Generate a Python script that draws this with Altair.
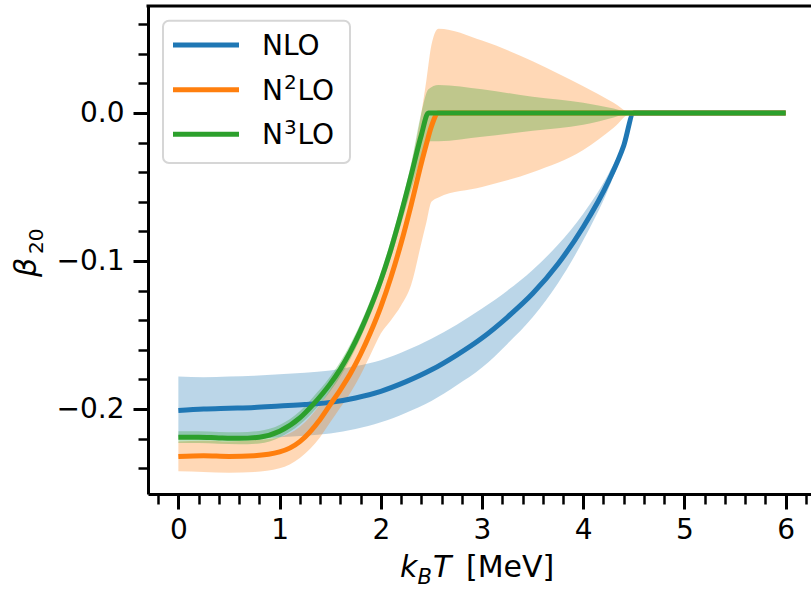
import altair as alt
import pandas as pd

# ---- series values: beta_20 versus k_B T (MeV), central curve with lower/upper band ----
series_names = ["NLO", "N²LO", "N³LO"]
series_colors = ["#1f77b4", "#ff7f0e", "#2ca02c"]
# legend labels drawn as (base, superscript, tail) so the order digit sits raised
legend_parts = [("NLO", "", ""), ("N", "2", "LO"), ("N", "3", "LO")]

nlo_x = [0.0, 0.25, 0.5, 0.75, 1.0, 1.25, 1.5, 1.75, 2.0, 2.25, 2.5, 2.75, 3.0,
         3.25, 3.5, 3.75, 4.0, 4.25, 4.4, 4.5, 5.0, 5.5, 6.0]
nlo_mid = [-0.201, -0.200, -0.1995, -0.199, -0.198, -0.197, -0.1955, -0.1925, -0.188,
           -0.1815, -0.1735, -0.1635, -0.152, -0.138, -0.122, -0.102, -0.077, -0.046,
           -0.022, 0.0, 0.0, 0.0, 0.0]
nlo_hi = [-0.178, -0.1785, -0.178, -0.1775, -0.1765, -0.1755, -0.174, -0.171, -0.167,
          -0.1605, -0.1525, -0.143, -0.132, -0.120, -0.106, -0.089, -0.068, -0.041,
          -0.020, 0.0, 0.0, 0.0, 0.0]
nlo_lo = [-0.219, -0.2205, -0.2205, -0.220, -0.219, -0.218, -0.2165, -0.2135, -0.209,
          -0.2025, -0.1945, -0.184, -0.172, -0.156, -0.138, -0.115, -0.086, -0.051,
          -0.024, 0.0, 0.0, 0.0, 0.0]

n2lo_x = [0.0, 0.25, 0.5, 0.75, 1.0, 1.2, 1.4, 1.5, 1.6, 1.7, 1.8, 1.9, 2.0, 2.1,
          2.2, 2.3, 2.4, 2.45, 2.5, 2.57, 3.0, 3.5, 4.0, 4.3, 4.48, 5.0, 5.5, 6.0]
n2lo_mid = [-0.232, -0.2315, -0.232, -0.2315, -0.229, -0.222, -0.207, -0.197, -0.187,
            -0.176, -0.163, -0.148, -0.131, -0.111, -0.088, -0.062, -0.034, -0.021,
            -0.009, 0.0, 0.0, 0.0, 0.0, 0.0, 0.0, 0.0, 0.0, 0.0]
n2lo_hi = [-0.222, -0.2215, -0.222, -0.221, -0.219, -0.212, -0.197, -0.187, -0.176,
           -0.164, -0.150, -0.134, -0.116, -0.095, -0.068, -0.036, 0.000, 0.022,
           0.046, 0.057, 0.049, 0.035, 0.018, 0.007, 0.0, 0.0, 0.0, 0.0]
n2lo_lo = [-0.242, -0.2425, -0.243, -0.2425, -0.240, -0.233, -0.219, -0.209, -0.199,
           -0.189, -0.177, -0.163, -0.149, -0.140, -0.130, -0.116, -0.088, -0.074,
           -0.060, -0.057, -0.050, -0.040, -0.025, -0.010, 0.0, 0.0, 0.0, 0.0]

n3lo_x = [0.0, 0.2, 0.4, 0.6, 0.8, 1.0, 1.2, 1.33, 1.5, 1.6, 1.7, 1.8, 1.9, 2.0,
          2.1, 2.2, 2.3, 2.4, 2.47, 2.57, 3.0, 3.5, 4.0, 4.3, 4.48, 5.0, 5.5, 6.0]
n3lo_mid = [-0.219, -0.219, -0.2195, -0.2198, -0.219, -0.215, -0.206, -0.197, -0.183,
            -0.173, -0.161, -0.147, -0.131, -0.113, -0.092, -0.068, -0.042, -0.015,
            0.0, 0.0, 0.0, 0.0, 0.0, 0.0, 0.0, 0.0, 0.0, 0.0]
n3lo_hi = [-0.215, -0.215, -0.2155, -0.2157, -0.2148, -0.2108, -0.2015, -0.192, -0.178,
           -0.168, -0.156, -0.142, -0.126, -0.108, -0.086, -0.062, -0.034, 0.000,
           0.016, 0.019, 0.016, 0.011, 0.007, 0.003, 0.0, 0.0, 0.0, 0.0]
n3lo_lo = [-0.223, -0.223, -0.2235, -0.2238, -0.2232, -0.2192, -0.2105, -0.202, -0.188,
           -0.178, -0.166, -0.152, -0.136, -0.118, -0.098, -0.075, -0.052, -0.030,
           -0.019, -0.019, -0.016, -0.012, -0.008, -0.003, 0.0, 0.0, 0.0, 0.0]

# axis ticks
x_major = [0, 1, 2, 3, 4, 5, 6]
x_minor = [round(-0.2 + 0.2 * i, 1) for i in range(33) if (i - 1) % 5 != 0]
y_major = [-0.2, -0.1, 0.0]
y_minor = [round(-0.24 + 0.02 * i, 2) for i in range(16) if i % 5 != 2]

X_DOMAIN = [-0.3, 6.25]
Y_DOMAIN = [-0.2574, 0.0723]
W, H = 663, 488
FONT = "DejaVu Sans"

frames = []
for name, xs, mid, lo, hi in [
    (series_names[0], nlo_x, nlo_mid, nlo_lo, nlo_hi),
    (series_names[1], n2lo_x, n2lo_mid, n2lo_lo, n2lo_hi),
    (series_names[2], n3lo_x, n3lo_mid, n3lo_lo, n3lo_hi),
]:
    frames.append(pd.DataFrame({"series": name, "T": xs, "beta": mid, "lo": lo, "hi": hi}))
df = pd.concat(frames, ignore_index=True)
df["order"] = df["series"].map({n: i for i, n in enumerate(series_names)})

color = alt.Color("series:N", scale=alt.Scale(domain=series_names, range=series_colors),
                  legend=None)
xscale = alt.Scale(domain=X_DOMAIN, nice=False, zero=False)
yscale = alt.Scale(domain=Y_DOMAIN, nice=False, zero=False)

axis_common = dict(domainColor="black", domainWidth=3, tickColor="black",
                   labelColor="black", labelFont=FONT, labelFontSize=28, grid=False)

x_major_axis = alt.Axis(orient="bottom", values=x_major, format="d", tickSize=15,
                        tickWidth=3, labelPadding=7, **axis_common)
x_minor_axis = alt.Axis(orient="bottom", values=x_minor, labels=False, domain=False,
                        tickSize=10, tickWidth=2.5, tickColor="black", grid=False)
y_major_axis = alt.Axis(orient="left", values=y_major, format=".1f", tickSize=15,
                        tickWidth=3, labelPadding=9, **axis_common)
y_minor_axis = alt.Axis(orient="left", values=y_minor, labels=False, domain=False,
                        tickSize=10, tickWidth=2.5, tickColor="black", grid=False)

bands = alt.Chart(df).mark_area(opacity=0.3, interpolate="monotone").encode(
    x=alt.X("T:Q", scale=xscale, axis=x_major_axis, title=None),
    y=alt.Y("lo:Q", scale=yscale, axis=y_major_axis, title=None),
    y2="hi:Q",
    color=color,
    order="order:Q",
)

lines = alt.Chart(df).mark_line(strokeWidth=5, interpolate="monotone",
                                strokeCap="butt", strokeJoin="round").encode(
    x=alt.X("T:Q", scale=xscale, axis=x_minor_axis, title=None),
    y=alt.Y("beta:Q", scale=yscale, axis=y_minor_axis, title=None),
    color=color,
    order="order:Q",
)

one = pd.DataFrame({"k": [0]})


def label(txt, x, y, size, italic=False, angle=0):
    props = dict(text=txt, font=FONT, fontSize=size, align="left",
                 baseline="alphabetic", color="black")
    if italic:
        props["fontStyle"] = "italic"
    if angle:
        props["angle"] = angle
    return alt.Chart(one).mark_text(**props).encode(x=alt.value(x), y=alt.value(y))


# top spine
top_spine = alt.Chart(one).mark_rule(color="black", strokeWidth=3).encode(
    x=alt.value(-1.5), x2=alt.value(W), y=alt.value(0))

# legend box and entries
legend_box = alt.Chart(one).mark_rect(
    fill="white", fillOpacity=0.8, stroke="#d6d6d6", strokeWidth=2, cornerRadius=6
).encode(x=alt.value(15), x2=alt.value(202), y=alt.value(14.7), y2=alt.value(157))

legend_layers = [legend_box]
for i, ((base, sup, tail), col) in enumerate(zip(legend_parts, series_colors)):
    ly = 39 + 44.65 * i
    legend_layers.append(
        alt.Chart(one).mark_rule(color=col, strokeWidth=5).encode(
            x=alt.value(25), x2=alt.value(91), y=alt.value(ly)))
    legend_layers.append(label(base, 114, ly + 10, 28))
    if sup:
        legend_layers.append(label(sup, 136, ly - 0.5, 20))
        legend_layers.append(label(tail, 149.5, ly + 10, 28))

# axis titles: k_B T [MeV] and beta_20
titles = [
    label("k", 252, 571, 30, italic=True),
    label("B", 269.5, 578, 21, italic=True),
    label("T", 285, 571, 30, italic=True),
    label("[MeV]", 318, 571, 30),
    label("β", -112, 271, 30, italic=True, angle=270),
    label("20", -105, 248, 20, angle=270),
]

chart = alt.layer(bands, lines, top_spine, *legend_layers, *titles).resolve_axis(
    x="independent", y="independent"
).properties(
    width=W, height=H,
    autosize=alt.AutoSizeParams(type="none"),
    padding={"left": 148, "top": 6, "right": 0, "bottom": 96},
).configure_view(stroke="transparent").configure(font=FONT)

chart.save("out.html", embed_options={"renderer": "svg", "actions": False})
